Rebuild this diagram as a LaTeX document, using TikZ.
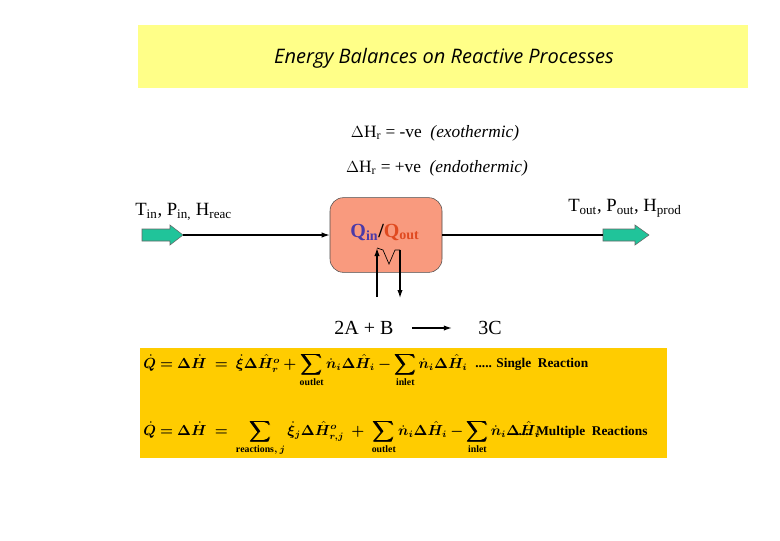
\documentclass[tikz,border=0pt]{standalone}
\usepackage{amsmath,bm}
\usepackage{fontspec}
\setmainfont{Liberation Serif}
\newfontfamily\titlefont{Open Sans}
\usetikzlibrary{arrows.meta}
\definecolor{titley}{HTML}{FFFF88}
\definecolor{eqy}{HTML}{FFCC00}
\definecolor{boxred}{HTML}{F99A7E}
\definecolor{grn}{HTML}{20C49A}
\definecolor{qin}{HTML}{4B3AA8}
\definecolor{qout}{HTML}{E04A20}
\tikzset{
  flow/.style={draw=black!60, fill=grn, line width=0.4pt},
  lbl/.style={font=\fontsize{14}{16}\selectfont, inner sep=0pt},
  line/.style={line width=0.9pt, -{Latex[length=6pt,width=4pt]}},
  eq/.style={font=\fontsize{10.5}{12}\selectfont\bfseries, inner sep=0pt, anchor=west},
  eqlbl/.style={font=\fontsize{10}{12}\selectfont\bfseries, inner sep=0pt, anchor=west}
}
\begin{document}
\begin{tikzpicture}[x=0.75pt,y=-0.75pt]
\useasboundingbox (0,0) rectangle (780,540);
\fill[white] (0,0) rectangle (780,540);
\node[fill=titley, minimum width=457.5pt, minimum height=47.5pt, inner sep=0pt] (title) at (443,56.5) {};
\node[font=\titlefont\itshape\fontsize{15}{18}\selectfont, inner sep=0pt] (tt) at (444,58) {Energy Balances on Reactive Processes};
\node[lbl, font=\fontsize{13}{15}\selectfont] (ex) at (435,133) {$\Delta$H\textsubscript{r} = -ve \ \textit{(exothermic)}};
\node[lbl, font=\fontsize{13}{15}\selectfont] (en) at (437,168) {$\Delta$H\textsubscript{r} = +ve \ \textit{(endothermic)}};
\node[lbl, anchor=west] (tin) at (135,212) {T\textsubscript{in}, P\textsubscript{in,} H\textsubscript{reac}};
\node[lbl, anchor=west] (tout) at (568,208) {T\textsubscript{out}, P\textsubscript{out}, H\textsubscript{prod}};
\draw[flow] (142,229) -- (170,229) -- (170,225) -- (183,235) -- (170,245) -- (170,241) -- (142,241) -- cycle;
\draw[flow] (603,229) -- (635,229) -- (635,225) -- (649,235) -- (635,245) -- (635,241) -- (603,241) -- cycle;
\coordinate (fin) at (183,235);
\coordinate (fout) at (603,235);
\node[draw=black!70, fill=boxred, rounded corners=10pt, minimum width=84pt, minimum height=56pt, inner sep=0pt] (rx) at (386,235) {};
\node[font=\fontsize{15}{17}\selectfont\bfseries, inner sep=0pt] (q) at (385,232) {\textcolor{qin}{Q\textsubscript{in}}/\textcolor{qout}{Q\textsubscript{out}}};
\draw[line] (fin) -- (rx.west);
\draw[line width=0.9pt] (rx.east) -- (fout);
\coordinate (ua) at (377,297);
\coordinate (ut) at (377,248);
\coordinate (dt) at (400,250);
\coordinate (db) at (400,298);
\draw[line] (ua) -- (ut);
\draw[line] (dt) -- (db);
\draw[line width=0.5pt] (ut) -- (383,250) -- (389,264) -- (395,250) -- (dt);
\node[lbl, font=\fontsize{15}{17}\selectfont] (re) at (364,328) {2A + B};
\node[lbl, font=\fontsize{15}{17}\selectfont] (pr) at (490,328) {3C};
\draw[line] (re.east)++(18,0) coordinate (a1) -- ++(40,0) coordinate (a2);
\node[fill=eqy, minimum width=395pt, minimum height=82.5pt, inner sep=0pt] (eqb) at (403.5,403) {};
\node[eq] (e1) at (143,370) {$\boldsymbol{\dot Q = \Delta \dot H \;=\; \dot\xi\Delta \hat H^{o}_{r} + \displaystyle\sum_{\mathrm{outlet}} \dot n_i\Delta\hat H_i - \sum_{\mathrm{inlet}} \dot n_i\Delta\hat H_i}$};
\node[eqlbl] (l1) at (475,364) {..... Single\ \ Reaction};
\node[eq] (e2) at (143,438) {$\boldsymbol{\dot Q = \Delta \dot H \;=\; \displaystyle\sum_{\mathrm{reactions},\,j} \dot\xi_j\Delta \hat H^{o}_{r,j} \;+\; \sum_{\mathrm{outlet}} \dot n_i\Delta\hat H_i - \sum_{\mathrm{inlet}} \dot n_i\Delta\hat H_i}$};
\node[eqlbl] (l2) at (515,432) {..... Multiple\ \ Reactions};
\end{tikzpicture}
\end{document}
